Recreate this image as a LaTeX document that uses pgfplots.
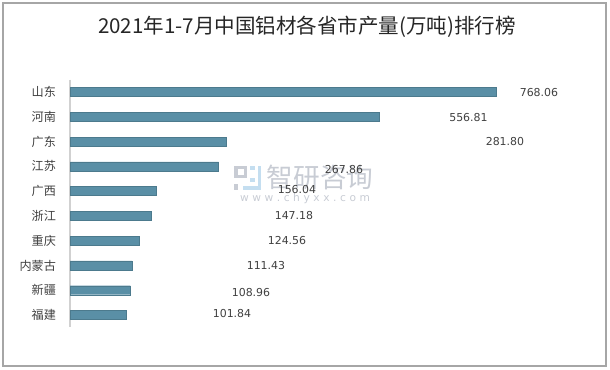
\documentclass[border=0pt]{standalone}
\usepackage{pgfplots}
\usepackage{pgfplotstable}
\pgfplotsset{compat=1.18}
\usepackage{fontspec}
\setmainfont{DejaVu Sans}
\newfontfamily\cjk{Noto Sans CJK SC}
\definecolor{barc}{RGB}{90,143,166}
\definecolor{txt}{RGB}{64,64,64}
\definecolor{wm}{RGB}{200,204,212}
\definecolor{wmb}{RGB}{196,222,240}

\pgfplotstableread{
y v
0 768.06
1 556.81
2 281.80
3 267.86
4 156.04
5 147.18
6 124.56
7 111.43
8 108.96
9 101.84
}\bars

\pgfplotstableread{
y lx lbl
0.03 845.5 768.06
1.05 718.4 556.81
2.0 784.2 281.80
3.11 494.0 267.86
3.92 409.2 156.04
5.0 403.8 147.18
6.0 391.2 124.56
7.0 353.3 111.43
8.08 326.3 108.96
8.93 292.1 101.84
}\labs

\begin{document}
\begin{tikzpicture}[x=0.75pt,y=0.75pt]
\path (0,0) rectangle (610,369);
\draw[color=black!35, line width=0.8pt] (3,3) rectangle (606,366);
\node[font=\cjk\fontsize{15.4}{17}\selectfont, text=black!85] at (307,342) {2021年1-7月中国铝材各省市产量(万吨)排行榜};
% watermark
\fill[wm] (234,203) rectangle (247,200);
\fill[wm] (234,203) rectangle (238,191);
\fill[wm] (234,194) rectangle (247,191);
\fill[wm] (244,203) rectangle (247,191);
\fill[wm] (234,185) rectangle (238,179);
\fill[wmb] (258,203) rectangle (261,179);
\fill[wmb] (250,203) rectangle (255,199);
\fill[wmb] (243,183) rectangle (261,179);
\fill[wmb] (250,191) rectangle (255,187);
\node[font=\cjk\fontsize{20}{22}\selectfont, text=wm] at (320,192) {智研咨询};
\node[font=\fontsize{8}{9}\selectfont, text=wm] at (305,170) {w\,\,w\,\,w\,\,.\,\,c\,\,h\,\,y\,\,x\,\,x\,\,.\,\,c\,\,o\,\,m};
\begin{axis}[
  at={(52.5pt,31.2pt)}, anchor=south west,
  scale only axis, width=395.2pt, height=185.85pt,
  xmin=0, xmax=950, ymin=-0.5, ymax=9.5,
  y dir=reverse,
  axis x line=none,
  axis y line=left,
  y axis line style={-, draw=black!18, line width=0.8pt},
  ytick={0,...,9},
  yticklabels={山东,河南,广东,江苏,广西,浙江,重庆,内蒙古,新疆,福建},
  yticklabel style={font=\cjk\fontsize{9.1}{10}\selectfont, text=txt, xshift=-7pt},
  major tick length=0pt,
  clip=false,
]
\addplot[xbar, bar width=6.75pt, fill=barc, draw=barc!85!black, line width=0.3pt] table[x=v, y=y] {\bars};
\addplot[draw=none, mark=none, nodes near coords, nodes near coords align=center,
  point meta=explicit symbolic,
  every node near coord/.style={font=\fontsize{8.2}{9}\selectfont, text=txt, anchor=center}]
  table[x=lx, y=y, meta=lbl] {\labs};
\end{axis}
\end{tikzpicture}
\end{document}
